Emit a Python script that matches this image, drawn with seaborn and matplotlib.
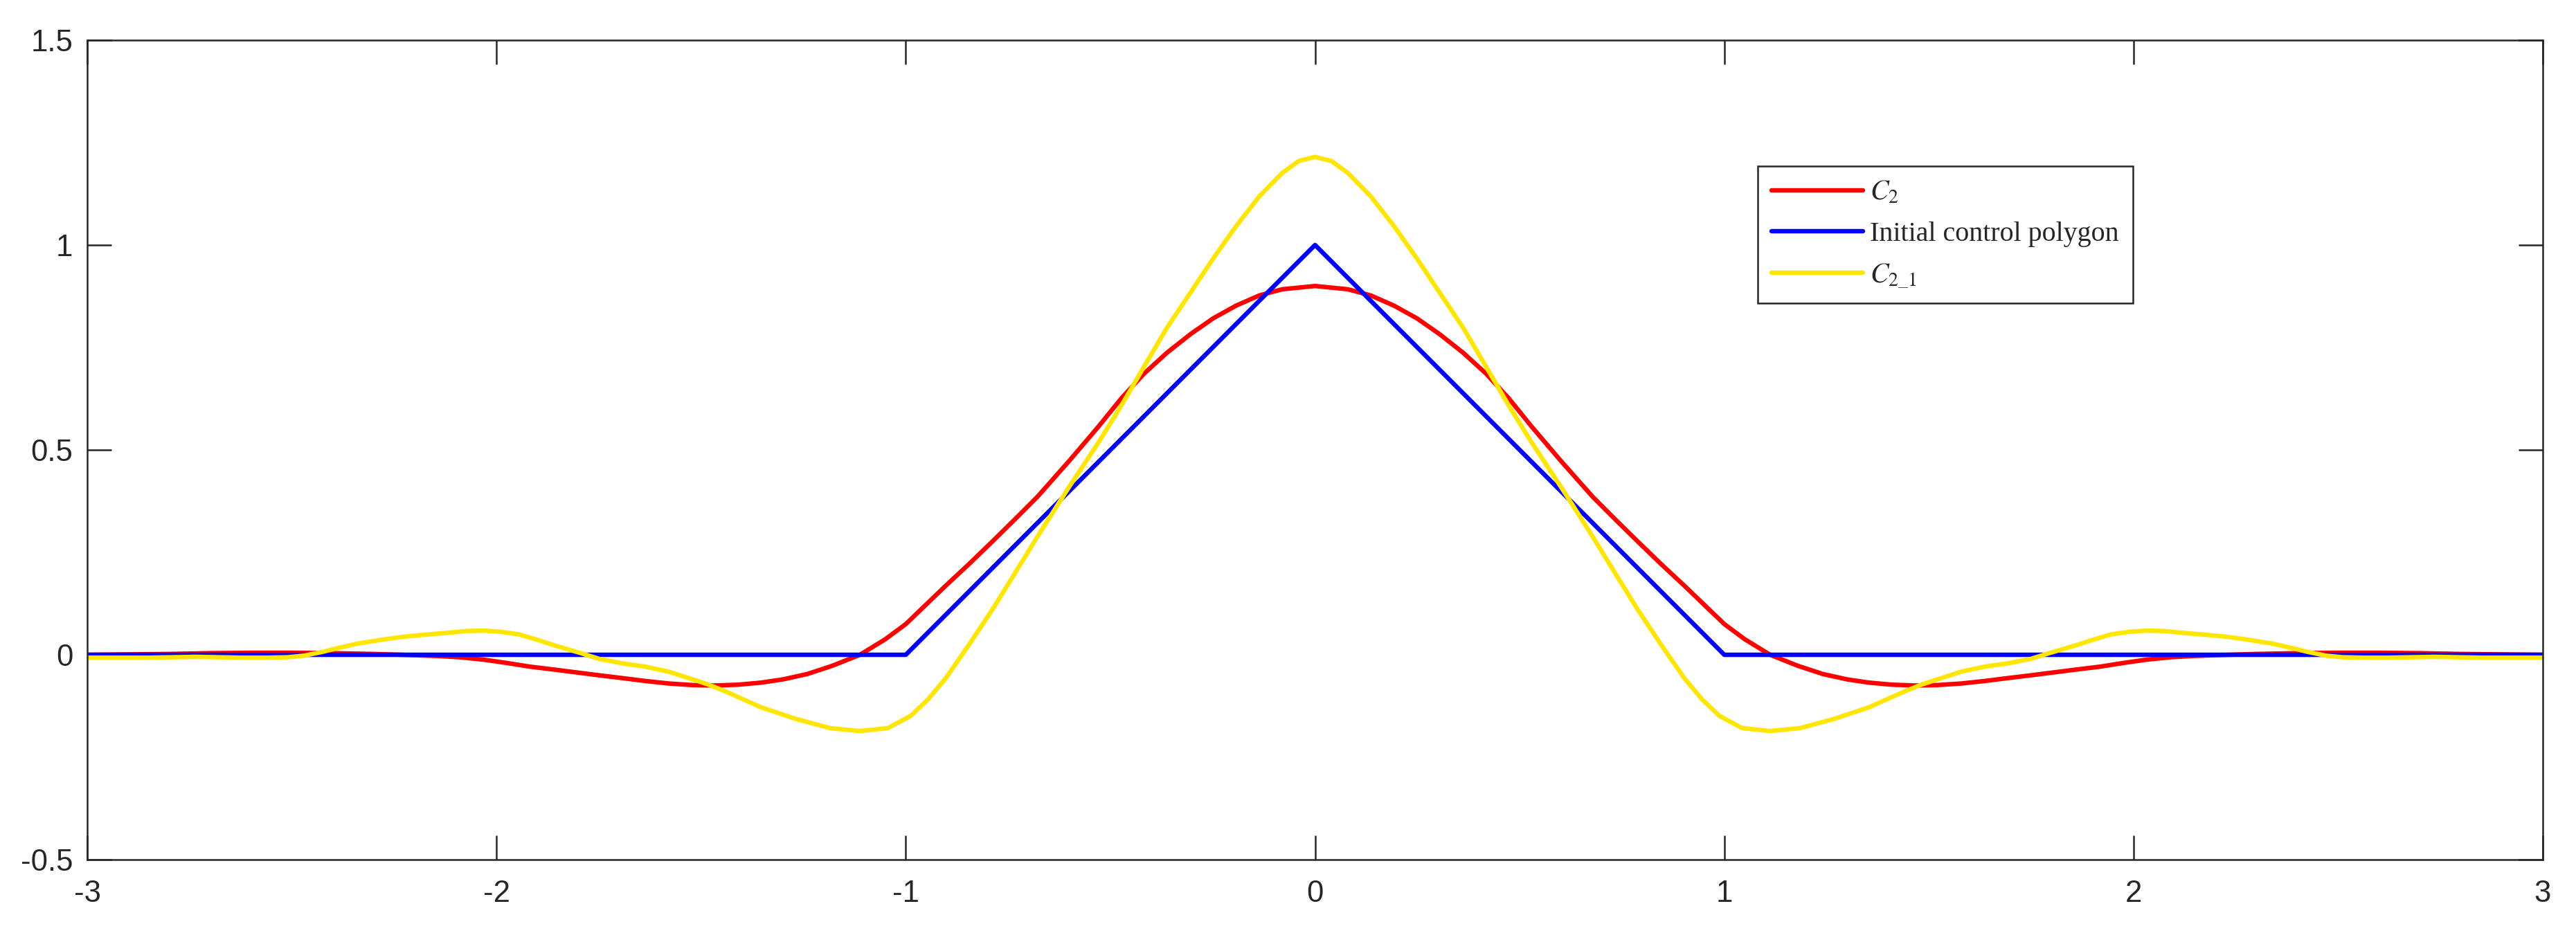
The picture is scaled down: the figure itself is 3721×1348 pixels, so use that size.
import numpy as np
import pandas as pd
import matplotlib
matplotlib.use("Agg")
import matplotlib.pyplot as plt
import seaborn as sns

# ---------------- data ----------------
c2_x = [-3.0, -2.9, -2.8, -2.7, -2.6, -2.5, -2.4, -2.3, -2.2, -2.143, -2.09, -2.031, -1.975,
        -1.918, -1.86, -1.805, -1.75, -1.692, -1.636, -1.58, -1.52, -1.467, -1.41, -1.354,
        -1.3, -1.241, -1.18, -1.112, -1.05, -1.0, -0.951, -0.903, -0.846, -0.79, -0.734,
        -0.678, -0.6, -0.53, -0.474, -0.418, -0.362, -0.305, -0.249, -0.193, -0.136, -0.08,
        0.0,
        0.08, 0.136, 0.193, 0.249, 0.305, 0.362, 0.418, 0.474, 0.53, 0.6, 0.678, 0.734, 0.79,
        0.846, 0.903, 0.951, 1.0, 1.05, 1.112, 1.18, 1.241, 1.3, 1.354, 1.41, 1.467, 1.52,
        1.58, 1.636, 1.692, 1.75, 1.805, 1.86, 1.918, 1.975, 2.031, 2.09, 2.143, 2.2, 2.3,
        2.4, 2.5, 2.6, 2.7, 2.8, 2.9, 3.0]
c2_y = [0.0, 0.001, 0.002, 0.004, 0.005, 0.005, 0.004, 0.002, -0.001, -0.003, -0.006, -0.012,
        -0.020, -0.029, -0.036, -0.043, -0.050, -0.057, -0.064, -0.070, -0.074, -0.075,
        -0.073, -0.068, -0.060, -0.047, -0.027, 0.0, 0.038, 0.075, 0.122, 0.168, 0.221, 0.275,
        0.330, 0.386, 0.474, 0.556, 0.625, 0.686, 0.737, 0.782, 0.821, 0.852, 0.877, 0.892,
        0.900,
        0.892, 0.877, 0.852, 0.821, 0.782, 0.737, 0.686, 0.625, 0.556, 0.474, 0.386, 0.330,
        0.275, 0.221, 0.168, 0.122, 0.075, 0.038, 0.0, -0.027, -0.047, -0.060, -0.068, -0.073,
        -0.075, -0.074, -0.070, -0.064, -0.057, -0.050, -0.043, -0.036, -0.029, -0.020,
        -0.012, -0.006, -0.003, -0.001, 0.002, 0.004, 0.005, 0.005, 0.004, 0.002, 0.001, 0.0]

poly_x = [-3.0, -1.0, 0.0, 1.0, 3.0]
poly_y = [0.0, 0.0, 1.0, 0.0, 0.0]

c21_x = [-3.0, -2.92, -2.848, -2.79, -2.736, -2.68, -2.623, -2.56, -2.51, -2.47, -2.426,
         -2.385, -2.341, -2.285, -2.228, -2.175, -2.115, -2.073, -2.031, -1.99, -1.946,
         -1.905, -1.862, -1.794, -1.749, -1.692, -1.636, -1.58, -1.53, -1.484, -1.439,
         -1.354, -1.27, -1.185, -1.112, -1.044, -0.988, -0.945, -0.903, -0.846, -0.79,
         -0.734, -0.678, -0.604, -0.53, -0.474, -0.418, -0.362, -0.305, -0.249, -0.193,
         -0.136, -0.08, -0.04,
         0.0,
         0.04, 0.08, 0.136, 0.193, 0.249, 0.305, 0.362, 0.418, 0.474, 0.53, 0.604, 0.678,
         0.734, 0.79, 0.846, 0.903, 0.945, 0.988, 1.044, 1.112, 1.185, 1.27, 1.354, 1.439,
         1.484, 1.53, 1.58, 1.636, 1.692, 1.749, 1.794, 1.862, 1.905, 1.946, 1.99, 2.031,
         2.073, 2.115, 2.175, 2.228, 2.285, 2.341, 2.385, 2.426, 2.47, 2.51, 2.56, 2.623,
         2.68, 2.736, 2.79, 2.848, 2.92, 3.0]
c21_y = [-0.007, -0.007, -0.007, -0.006, -0.005, -0.006, -0.007, -0.007, -0.006, -0.002,
         0.007, 0.017, 0.027, 0.036, 0.044, 0.049, 0.054, 0.058, 0.059, 0.056, 0.050, 0.038,
         0.024, 0.004, -0.010, -0.021, -0.029, -0.041, -0.057, -0.072, -0.090, -0.128,
         -0.156, -0.179, -0.186, -0.179, -0.149, -0.108, -0.058, 0.024, 0.108, 0.198, 0.289,
         0.405, 0.517, 0.607, 0.703, 0.798, 0.883, 0.967, 1.046, 1.119, 1.176, 1.205,
         1.215,
         1.205, 1.176, 1.119, 1.046, 0.967, 0.883, 0.798, 0.703, 0.607, 0.517, 0.405, 0.289,
         0.198, 0.108, 0.024, -0.058, -0.108, -0.149, -0.179, -0.186, -0.179, -0.156, -0.128,
         -0.090, -0.072, -0.057, -0.041, -0.029, -0.021, -0.010, 0.004, 0.024, 0.038, 0.050,
         0.056, 0.059, 0.058, 0.054, 0.049, 0.044, 0.036, 0.027, 0.017, 0.007, -0.002,
         -0.006, -0.007, -0.007, -0.006, -0.005, -0.006, -0.007, -0.007, -0.007]

x_ticks = [-3, -2, -1, 0, 1, 2, 3]
x_tick_labels = ["-3", "-2", "-1", "0", "1", "2", "3"]
y_ticks = [-0.5, 0, 0.5, 1, 1.5]
y_tick_labels = ["-0.5", "0", "0.5", "1", "1.5"]

labels = [r"$C_2$", "Initial control polygon", r"$C_{2\_1}$"]
colors = ["#FF0000", "#0000FF", "#FFE600"]

# ---------------- style ----------------
sns.set_theme(style="white")
plt.rcParams["font.family"] = ["Liberation Sans", "DejaVu Sans"]
plt.rcParams["axes.unicode_minus"] = False
plt.rcParams["mathtext.fontset"] = "stix"
plt.rcParams["lines.solid_joinstyle"] = "round"

fig = plt.figure(figsize=(3721 / 300, 1348 / 300), dpi=300)
ax = fig.add_axes([0.0339, 0.0786, 0.9871 - 0.0339, 0.957 - 0.0786])

series = [(c2_x, c2_y), (poly_x, poly_y), (c21_x, c21_y)]
for (xs, ys), lab, col in zip(series, labels, colors):
    df = pd.DataFrame({"x": xs, "y": ys})
    sns.lineplot(data=df, x="x", y="y", ax=ax, color=col, linewidth=1.55,
                 label=lab, sort=False, estimator=None)

ax.set_xlim(-3, 3)
ax.set_ylim(-0.5, 1.5)
ax.set_xticks(x_ticks)
ax.set_xticklabels(x_tick_labels)
ax.set_yticks(y_ticks)
ax.set_yticklabels(y_tick_labels)
ax.set_xlabel("")
ax.set_ylabel("")

for sp in ax.spines.values():
    sp.set_visible(True)
    sp.set_color("#262626")
    sp.set_linewidth(0.6)

ax.tick_params(axis="both", which="major", direction="in", length=8.4, width=0.6,
               color="#262626", labelcolor="#262626", labelsize=10.5,
               top=True, right=True, bottom=True, left=True)
ax.tick_params(axis="x", pad=7)
ax.tick_params(axis="y", pad=5)

leg = ax.legend(loc="upper left", bbox_to_anchor=(0.6803, 0.846),
                prop={"family": "Liberation Serif", "size": 9.6},
                frameon=True, fancybox=False, shadow=False,
                handlelength=3.3, handletextpad=0.25, labelspacing=0.55,
                borderpad=0.5, borderaxespad=0.0)
leg.get_frame().set_edgecolor("#262626")
leg.get_frame().set_linewidth(0.6)
leg.get_frame().set_facecolor("white")
leg.get_frame().set_alpha(1.0)
for line in leg.get_lines():
    line.set_linewidth(1.55)

fig.savefig("out.png", dpi=300, facecolor="white")
